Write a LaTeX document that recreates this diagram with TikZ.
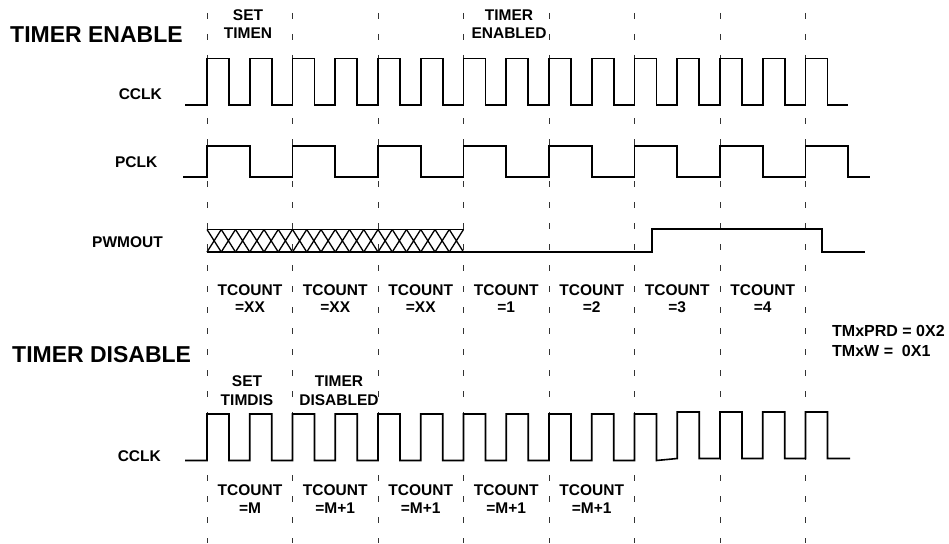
\documentclass[tikz,border=0pt]{standalone}
\usepackage{fontspec}
\setmainfont{Liberation Sans}
\begin{document}
\begin{tikzpicture}[x=1pt,y=-1pt,
  wave/.style={black,line width=1.6pt,line join=miter},
  hatchline/.style={black,line width=1.3pt},
  gridline/.style={black!80,line width=0.8pt,dash pattern=on 6pt off 15pt},
  lbl/.style={font=\bfseries\fontsize{15.5}{18}\selectfont,inner sep=0pt,anchor=base},
  sig/.style={font=\bfseries\fontsize{15.5}{18}\selectfont,inner sep=0pt,anchor=base east},
  note/.style={font=\bfseries\fontsize{16}{18}\selectfont,inner sep=0pt,anchor=base west},
  heading/.style={font=\bfseries\fontsize{23}{27}\selectfont,inner sep=0pt,anchor=base west}]
\useasboundingbox (0,0) rectangle (949,543);
% dashed grid
\foreach \k in {0,...,7}{
  \draw[gridline] ({207+85.5*\k},13) -- ({207+85.5*\k},543);
}
% headings
\node[heading] (hEn) at (10,43) {TIMER ENABLE};
\node[heading] (hDis) at (12,362) {TIMER DISABLE};
% top labels
\node[lbl] (setA) at (248,21) {SET};
\node[lbl] (setB) at (248,39) {TIMEN};
\node[lbl] (enA) at (509,21) {TIMER};
\node[lbl] (enB) at (509,39) {ENABLED};
% signal names
\node[sig] (sCclk) at (162,99.5) {CCLK};
\node[sig] (sPclk) at (157.5,167) {PCLK};
\node[sig] (sPwm) at (163,247) {PWMOUT};
\node[sig] (sCclk2) at (161,461.5) {CCLK};
% top CCLK
\draw[wave] (185,105) foreach \k in {0,...,14} { -- ({207+42.75*\k},105) -- ++(0,-46.5) -- ++(22,0) -- ++(0,46.5) } -- (848,105);
% PCLK
\draw[wave] (183,176.7) foreach \k in {0,...,7} { -- ({207+85.5*\k},176.7) -- ++(0,-31) -- ++(42.75,0) -- ++(0,31) } -- (870,176.7);
% PWMOUT hatch
\foreach \i in {0,...,17}{
  \draw[hatchline] ({207+14.25*\i},229.5) -- ++(14.25,22.5)
                   ({207+14.25*\i},252) -- ++(14.25,-22.5);
}
\draw[hatchline] (207,229.5) -- (463.5,229.5);
\draw[wave] (207,252) -- (652,252) -- (652,229) -- (822,229) -- (822,252) -- (865,252);
% TCOUNT labels (enable)
\foreach \c/\v [count=\n] in {250/=XX,335.25/=XX,420.75/=XX,506.25/=1,591.75/=2,677.25/=3,762.75/=4}{
  \node[lbl] (tcA\n) at (\c,295) {TCOUNT};
  \node[lbl] (tcB\n) at (\c,312) {\v};
}
% register notes
\node[note] (nPrd) at (832,336) {TMxPRD = 0X2};
\node[note] (nW) at (832,356) {TMxW = \ 0X1};
% disable labels
\node[lbl] (disA) at (247,386) {SET};
\node[lbl] (disB) at (247,405) {TIMDIS};
\node[lbl] (tdA) at (339,386) {TIMER};
\node[lbl] (tdB) at (339,405) {DISABLED};
% bottom CCLK
\draw[wave] (185,460.5) foreach \k in {0,...,10} { -- ({207+42.75*\k},460.5) -- ++(0,-46.5) -- ++(22,0) -- ++(0,46.5) }
  -- (677.25,458.5) foreach \k in {11,...,14} { -- ({207+42.75*\k},458.5) -- ++(0,-46.5) -- ++(22,0) -- ++(0,46.5) } -- (850,458.5);
% TCOUNT labels (disable)
\foreach \c/\v [count=\n] in {250/=M,335.25/=M+1,420.75/=M+1,506.25/=M+1,591.75/=M+1}{
  \node[lbl] (tdcA\n) at (\c,495.5) {TCOUNT};
  \node[lbl] (tdcB\n) at (\c,513.5) {\v};
}
\end{tikzpicture}
\end{document}
